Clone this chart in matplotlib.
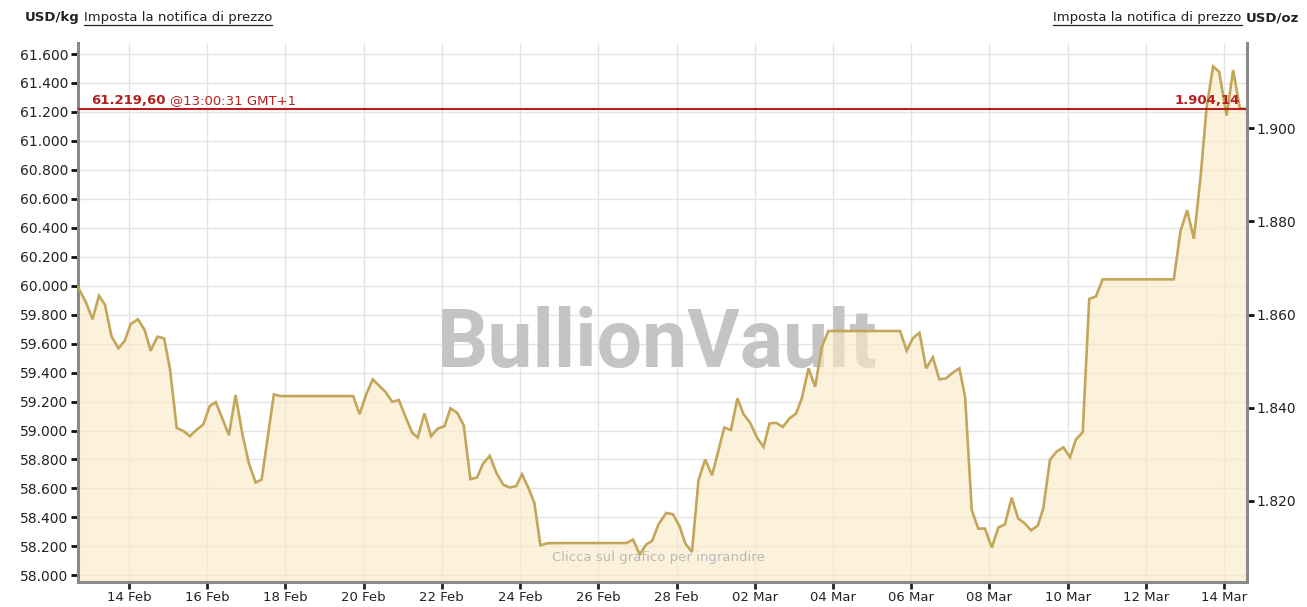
import datetime as dt
import matplotlib
matplotlib.use("Agg")
import matplotlib.pyplot as plt
import matplotlib.dates as mdates
from matplotlib.ticker import FixedLocator, FuncFormatter
from matplotlib.lines import Line2D
from matplotlib import font_manager

# ---------------- data ----------------
start = dt.datetime(2023, 2, 14)
hours = [-31.3, -26.6, -22.4, -18.4, -14.7, -10.8, -6.5, -2.6, 1.0, 5.5,
         9.6, 13.3, 17.4, 21.5, 25.1, 29.3, 33.4, 37.4, 41.3, 45.6,
         49.5, 53.2, 57.3, 61.3, 65.4, 69.5, 73.6, 77.7, 81.4, 88.9,
         93.0, 137.6, 141.5, 145.6, 149.6, 153.7, 157.4, 161.5, 165.6, 169.7,
         173.8, 177.2, 181.3, 185.4, 189.5, 193.6, 197.3, 201.4, 205.4, 209.5,
         213.6, 217.3, 221.4, 225.5, 229.6, 233.6, 237.7, 241.2, 245.3, 248.8,
         252.5, 256.6, 262.7, 305.2, 309.3, 313.4, 317.5, 321.0, 325.0, 329.7,
         333.8, 337.9, 341.4, 345.5, 349.5, 353.6, 357.8, 361.8, 365.3, 369.4,
         373.4, 377.1, 381.2, 385.7, 389.4, 393.1, 397.2, 401.3, 405.3, 409.4,
         412.9, 417.0, 421.1, 425.2, 429.2, 473.2, 477.3, 481.0, 485.1, 489.2,
         493.3, 497.3, 501.4, 505.5, 509.6, 513.1, 517.2, 521.2, 525.3, 529.5,
         533.5, 537.6, 541.7, 545.6, 549.6, 553.6, 557.7, 561.1, 565.2, 569.3,
         573.4, 577.5, 581.1, 585.3, 589.3, 593.4, 597.5, 641.2, 645.3, 649.4,
         653.5, 657.6, 661.3, 665.3, 669.0, 673.6, 677.6, 681.7, 685.8]
usd_kg = [59989, 59890, 59768, 59931, 59867, 59652, 59567, 59620, 59735, 59768,
          59694, 59551, 59648, 59637, 59429, 59018, 58996, 58961, 59003, 59042,
          59168, 59196, 59083, 58968, 59245, 58980, 58772, 58641, 58662, 59249,
          59238, 59238, 59113, 59251, 59353, 59307, 59267, 59198, 59210, 59094,
          58984, 58952, 59118, 58961, 59014, 59030, 59153, 59122, 59037, 58664,
          58676, 58772, 58825, 58707, 58627, 58606, 58617, 58698, 58599, 58498,
          58207, 58221, 58223, 58223, 58247, 58145, 58214, 58237, 58353, 58431,
          58422, 58339, 58219, 58161, 58657, 58800, 58691, 58864, 59021, 59003,
          59222, 59113, 59053, 58945, 58887, 59049, 59053, 59025, 59083, 59118,
          59222, 59429, 59302, 59578, 59687, 59687, 59551, 59637, 59675, 59429,
          59505, 59353, 59360, 59399, 59429, 59233, 58449, 58323, 58323, 58192,
          58330, 58353, 58536, 58394, 58360, 58311, 58343, 58463, 58798, 58855,
          58884, 58815, 58938, 58988, 59909, 59926, 60044, 60044, 60378, 60521,
          60324, 60748, 61229, 61514, 61477, 61175, 61489, 61225, 61220]
current_kg = 61219.60
current_oz = 1904.14
current_time = "@13:00:31 GMT+1"
left_ticks = [58000, 58200, 58400, 58600, 58800, 59000, 59200, 59400, 59600,
              59800, 60000, 60200, 60400, 60600, 60800, 61000, 61200, 61400, 61600]
right_ticks = [1820, 1840, 1860, 1880, 1900]
OZ_PER_KG = 32.1507466

times = [start + dt.timedelta(hours=h) for h in hours]

# ---------------- figure ----------------
W, H = 1307, 607
fig = plt.figure(figsize=(W / 100, H / 100), dpi=100)
fig.patch.set_facecolor("white")
L, R, T, B = 78, 1246.5, 43, 582
ax = fig.add_axes([L / W, (H - B) / H, (R - L) / W, (B - T) / H])
ax.set_facecolor("white")

gold = "#c4a65a"
red = "#b5201e"
spine_c = "#8a8a8a"

ylo, yhi = 57954, 61676
ax.set_ylim(ylo, yhi)
ax.set_xlim(times[0], times[-1])

ax.fill_between(times, usd_kg, ylo, color="#fbeac6", alpha=0.6, lw=0, zorder=2)
ax.plot(times, usd_kg, color=gold, lw=1.9, zorder=3, solid_joinstyle="miter")
ax.axhline(current_kg, color=red, lw=1.5, zorder=4)

# watermark (narrow font if available)
names = {f.name for f in font_manager.fontManager.ttflist}
wm_family = "Liberation Sans Narrow" if "Liberation Sans Narrow" in names else "Roboto"
wm_size = 70 if wm_family == "Liberation Sans Narrow" else 58
ax.text(0.4955, 0.44, "BullionVault", transform=ax.transAxes, ha="center", va="center",
        fontsize=wm_size, fontweight="bold", color="#c4c4c4", family=wm_family,
        zorder=1)
ax.text(0.497, 0.045, "Clicca sul grafico per ingrandire", transform=ax.transAxes,
        ha="center", va="center", fontsize=9.5, color="#b8b8b8", zorder=5)

# grid
ax.set_axisbelow(True)
ax.grid(True, color="#e4e4e4", lw=1.0)

# x axis
ax.xaxis.set_major_locator(mdates.DayLocator(bymonthday=range(2, 31, 2)))
ax.xaxis.set_major_formatter(mdates.DateFormatter("%d %b"))
ax.tick_params(axis="x", length=5, width=2, color="#222222", labelsize=9.5,
               labelcolor="#222222", pad=1.5, direction="out")

# y axis left
fmt = FuncFormatter(lambda v, p: f"{v:,.0f}".replace(",", "."))
ax.yaxis.set_major_locator(FixedLocator(left_ticks))
ax.yaxis.set_major_formatter(fmt)
ax.tick_params(axis="y", length=5, width=2, color="#111111", labelsize=10,
               labelcolor="#222222", pad=2)

for s in ["top", "right"]:
    ax.spines[s].set_visible(False)
for s in ["left", "bottom"]:
    ax.spines[s].set_color(spine_c)
    ax.spines[s].set_linewidth(2.2)

# right axis (USD/oz)
ax2 = ax.twinx()
ax2.set_ylim(ylo / OZ_PER_KG, yhi / OZ_PER_KG)
ax2.yaxis.set_major_locator(FixedLocator(right_ticks))
ax2.yaxis.set_major_formatter(fmt)
ax2.tick_params(axis="y", length=5, width=2, color="#111111", labelsize=10,
                labelcolor="#222222", pad=2)
for s in ["top", "left", "bottom"]:
    ax2.spines[s].set_visible(False)
ax2.spines["right"].set_color(spine_c)
ax2.spines["right"].set_linewidth(2.2)

# current price labels
def fx(px):
    return px / W

def fy(py):
    return (H - py) / H

t1 = fig.text(fx(91), fy(101), "61.219,60", color=red, fontsize=9.5, fontweight="bold",
              va="center", ha="left")
fig.canvas.draw()
r = fig.canvas.get_renderer()
bb = t1.get_window_extent(r)
fig.text((bb.x1 + 4) / W, fy(101), current_time, color=red, fontsize=9.5,
         va="center", ha="left")
oz_label = f"{current_oz:,.2f}".replace(",", "X").replace(".", ",").replace("X", ".")
fig.text(fx(1240), fy(101), oz_label, color=red, fontsize=9.5, fontweight="bold",
         va="center", ha="right")

# header texts with underline
def underline(txt):
    fig.canvas.draw()
    b = txt.get_window_extent(fig.canvas.get_renderer())
    y = b.y0 - 0.5
    fig.add_artist(Line2D([b.x0 / W, b.x1 / W], [y / H, y / H], transform=fig.transFigure,
                          color="#222222", lw=0.9))

hy = fy(18)
a = fig.text(fx(25), hy, "USD/kg", fontsize=9.5, fontweight="bold", color="#222222",
             va="center", ha="left")
fig.canvas.draw()
ba = a.get_window_extent(fig.canvas.get_renderer())
u1 = fig.text((ba.x1 + 4) / W, hy, "Imposta la notifica di prezzo", fontsize=9.5,
              color="#222222", va="center", ha="left")
underline(u1)

b2 = fig.text(fx(1299), hy, "USD/oz", fontsize=9.5, fontweight="bold", color="#222222",
              va="center", ha="right")
fig.canvas.draw()
bb2 = b2.get_window_extent(fig.canvas.get_renderer())
u2 = fig.text((bb2.x0 - 4) / W, hy, "Imposta la notifica di prezzo", fontsize=9.5,
              color="#222222", va="center", ha="right")
underline(u2)

fig.savefig("out.png", dpi=100, facecolor="white")
